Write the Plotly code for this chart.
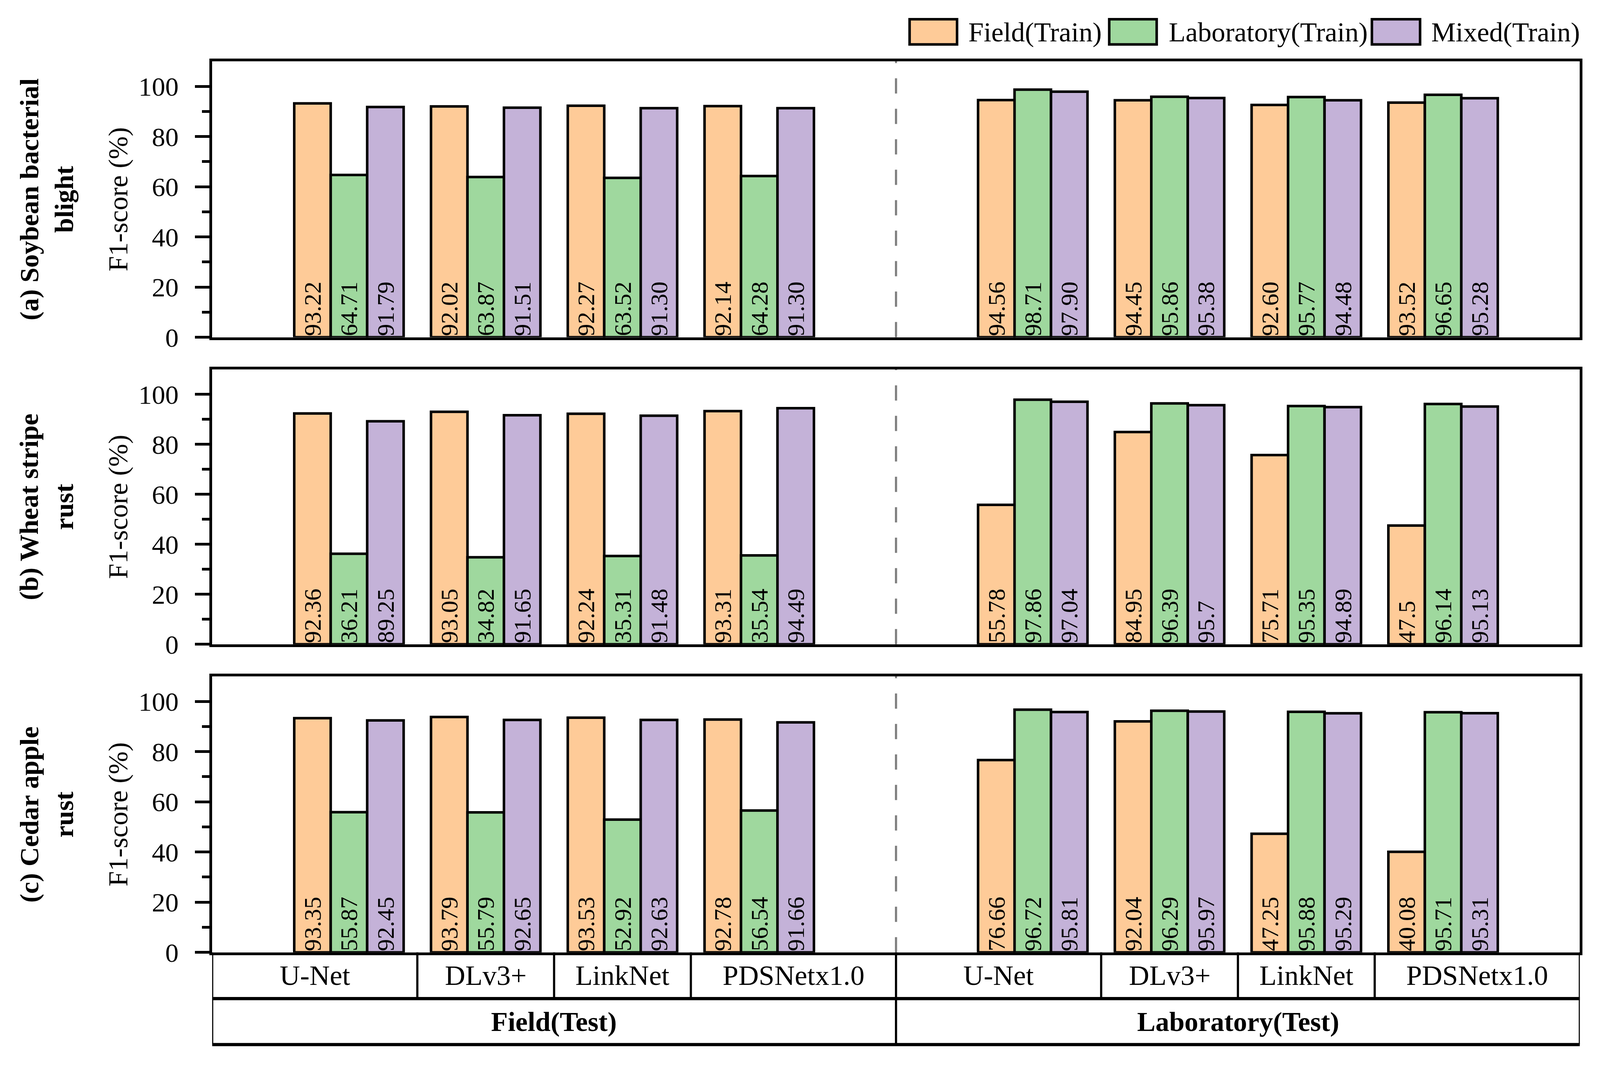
import plotly.graph_objects as go

# ---------------- data ----------------
models = ["U-Net", "DLv3+", "LinkNet", "PDSNetx1.0"]
test_sets = ["Field(Test)", "Laboratory(Test)"]
train_sets = ["Field(Train)", "Laboratory(Train)", "Mixed(Train)"]
panel_titles = ["(a) Soybean bacterial<br>blight", "(b) Wheat stripe<br>rust", "(c) Cedar apple<br>rust"]
y_ticks = [0, 20, 40, 60, 80, 100]

# order: Field(Test) x 4 models, then Laboratory(Test) x 4 models
soybean_field_train = ["93.22", "92.02", "92.27", "92.14", "94.56", "94.45", "92.60", "93.52"]
soybean_lab_train = ["64.71", "63.87", "63.52", "64.28", "98.71", "95.86", "95.77", "96.65"]
soybean_mixed_train = ["91.79", "91.51", "91.30", "91.30", "97.90", "95.38", "94.48", "95.28"]

wheat_field_train = ["92.36", "93.05", "92.24", "93.31", "55.78", "84.95", "75.71", "47.5"]
wheat_lab_train = ["36.21", "34.82", "35.31", "35.54", "97.86", "96.39", "95.35", "96.14"]
wheat_mixed_train = ["89.25", "91.65", "91.48", "94.49", "97.04", "95.7", "94.89", "95.13"]

cedar_field_train = ["93.35", "93.79", "93.53", "92.78", "76.66", "92.04", "47.25", "40.08"]
cedar_lab_train = ["55.87", "55.79", "52.92", "56.54", "96.72", "96.29", "95.88", "95.71"]
cedar_mixed_train = ["92.45", "92.65", "92.63", "91.66", "95.81", "95.97", "95.29", "95.31"]

panels = [
    [soybean_field_train, soybean_lab_train, soybean_mixed_train],
    [wheat_field_train, wheat_lab_train, wheat_mixed_train],
    [cedar_field_train, cedar_lab_train, cedar_mixed_train],
]

# ---------------- style ----------------
colors = ["#FECB98", "#9FD89E", "#C4B2D8"]
FONT = "Liberation Serif, Times New Roman, serif"
W, H = 4399, 2763          # reference pixel frame used for relative placement
S = 1 / 1.08               # pixel-size scale (page renders CSS px slightly enlarged)


def px(v):
    return round(v * S, 1)


def ipx(v):
    return int(round(v * S))


X_DOM = [577 / W, 4352 / W]
panel_px = [(152, 873), (957, 1675), (1759, 2480)]
y_doms = [[1 - b / H, 1 - t / H] for t, b in panel_px]
row_mid = 1 - 2601 / H
table_bot = 1 - 2721 / H
table_top = y_doms[2][0]

# slot positions: one empty slot around/between test-set groups
n_m = len(models)
positions = [m + (n_m + 1) * t for t in range(len(test_sets)) for m in range(n_m)]
x_lo, x_hi = positions[0] - 1, positions[-1] + 1
sep = (positions[n_m - 1] + positions[n_m]) / 2

fig = go.Figure()

for p, series in enumerate(panels):
    ax = "" if p == 0 else str(p + 1)
    for k, vals in enumerate(series):
        fig.add_trace(go.Bar(
            x=positions, y=[float(v) for v in vals], text=vals,
            name=train_sets[k], showlegend=False,
            marker=dict(color=colors[k], line=dict(color="black", width=px(7))),
            textposition="inside", insidetextanchor="start", textangle=-90,
            textfont=dict(family=FONT, size=px(67), color="black"),
            constraintext="none", cliponaxis=False,
            xaxis="x" + ax, yaxis="y" + ax,
        ))
    fig.update_layout(**{
        "xaxis" + ax: dict(domain=X_DOM, range=[x_lo, x_hi], showline=True, mirror=True,
                           linecolor="black", linewidth=px(8), showticklabels=False,
                           ticks="", showgrid=False, zeroline=False,
                           anchor="y" + ax),
        "yaxis" + ax: dict(domain=y_doms[p], range=[0, 110], tickvals=y_ticks,
                           ticks="outside", ticklen=px(40), tickwidth=px(7), tickcolor="black",
                           minor=dict(tickvals=[10, 30, 50, 70, 90], ticks="outside",
                                      ticklen=px(20), tickwidth=px(7), tickcolor="black"),
                           showline=True, mirror=True, linecolor="black", linewidth=px(8),
                           showgrid=False, zeroline=False,
                           tickfont=dict(family=FONT, size=px(74), color="black"),
                           ticklabelstandoff=ipx(30),
                           title=dict(text="F1-score (%)", standoff=ipx(8),
                                      font=dict(family=FONT, size=px(76), color="black")),
                           anchor="x" + ax),
    })
    # dashed separator between test sets
    fig.add_shape(type="line", xref="x" + ax, yref=f"y{ax} domain",
                  x0=sep, x1=sep, y0=0, y1=1,
                  line=dict(color="#808080", width=px(6), dash=f"{ipx(42)}px,{ipx(42)}px"))
    # panel label
    fig.add_annotation(x=120 / W, xref="paper", y=sum(y_doms[p]) / 2, yref="paper",
                       text="<b>" + panel_titles[p] + "</b>", textangle=-90,
                       showarrow=False, xanchor="center", yanchor="middle",
                       font=dict(family=FONT, size=px(74), color="black"))

fig.update_layout(barmode="group", bargap=0.2, bargroupgap=0)

# ---------------- category table below the last panel ----------------
thin = dict(color="black", width=px(6))
thick = dict(color="black", width=px(9))
for yv in [row_mid, table_bot]:
    fig.add_shape(type="line", xref="x3", yref="paper", x0=x_lo, x1=x_hi, y0=yv, y1=yv, line=thick)
for xv in [x_lo, sep, x_hi]:
    fig.add_shape(type="line", xref="x3", yref="paper", x0=xv, x1=xv,
                  y0=table_bot, y1=table_top, line=thin)
for t in range(len(test_sets)):
    grp = positions[t * n_m:(t + 1) * n_m]
    left = x_lo if t == 0 else sep
    right = sep if t == 0 else x_hi
    bounds = [left] + [(grp[i] + grp[i + 1]) / 2 for i in range(n_m - 1)] + [right]
    for b in bounds[1:-1]:
        fig.add_shape(type="line", xref="x3", yref="paper", x0=b, x1=b,
                      y0=row_mid, y1=table_top, line=thin)
    for i, m in enumerate(models):
        fig.add_annotation(x=(bounds[i] + bounds[i + 1]) / 2, xref="x3",
                           y=(row_mid + table_top) / 2, yref="paper", text=m,
                           showarrow=False, xanchor="center", yanchor="middle",
                           font=dict(family=FONT, size=px(78), color="black"))
    fig.add_annotation(x=(left + right) / 2, xref="x3",
                       y=(table_bot + row_mid) / 2, yref="paper",
                       text="<b>" + test_sets[t] + "</b>",
                       showarrow=False, xanchor="center", yanchor="middle",
                       font=dict(family=FONT, size=px(76), color="black"))

# ---------------- custom legend ----------------
leg_boxes = [(2502, 2633), (3053, 3184), (3778, 3911)]
leg_text_x = [2662, 3215, 3940]
for k, name in enumerate(train_sets):
    x0, x1 = leg_boxes[k]
    fig.add_shape(type="rect", xref="paper", yref="paper",
                  x0=x0 / W, x1=x1 / W, y0=1 - 108 / H, y1=1 - 42 / H,
                  fillcolor=colors[k], line=dict(color="black", width=px(7)))
    fig.add_annotation(x=leg_text_x[k] / W, xref="paper", y=1 - 75 / H, yref="paper",
                       text=name, showarrow=False, xanchor="left", yanchor="middle",
                       font=dict(family=FONT, size=px(76), color="black"))

fig.update_layout(autosize=True, margin=dict(l=0, r=0, t=0, b=0),
                  paper_bgcolor="white", plot_bgcolor="white",
                  font=dict(family=FONT, color="black"))

fig.write_html("out.html")
